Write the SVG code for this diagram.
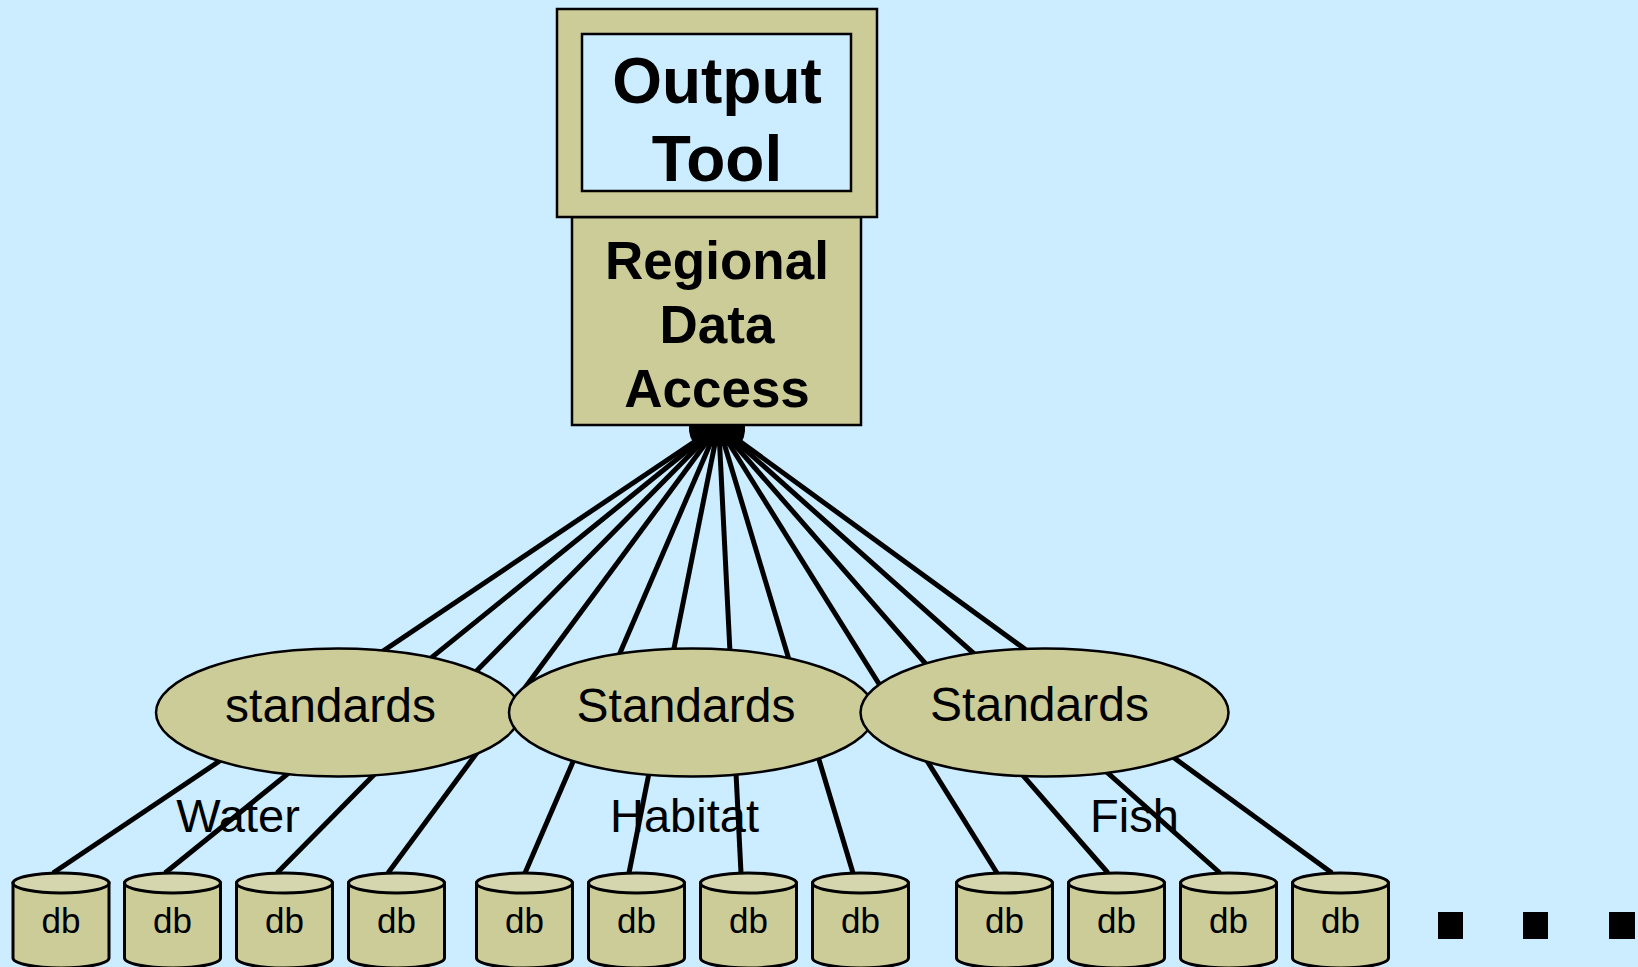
<svg xmlns="http://www.w3.org/2000/svg" width="1638" height="967" viewBox="0 0 1638 967">
  <defs>
    <style>
      .bg { fill: #CCECFF; }
      .box { fill: #CCCC99; stroke: #000; stroke-width: 2.5; }
      .screen { fill: #CCECFF; stroke: #000; stroke-width: 2.5; }
      .oval { fill: #CCCC99; stroke: #000; stroke-width: 2.5; }
      .cyl { fill: #CCCC99; stroke: #000; stroke-width: 3; }
      .cyltop { fill: #D5D6AE; stroke: #000; stroke-width: 3; }
      .link { stroke: #000; stroke-width: 5; fill: none; marker-end: url(#head); }
      .title { font-family: "Liberation Sans", Arial, sans-serif; font-weight: bold; text-anchor: middle; fill: #000; }
      .lbl { font-family: "Liberation Sans", Arial, sans-serif; text-anchor: middle; fill: #000; }
    </style>
    <marker id="head" viewBox="0 0 13 16" refX="0" refY="8" markerWidth="13" markerHeight="16" markerUnits="userSpaceOnUse" orient="auto">
      <path d="M0,0 L13,8 L0,16 z" fill="#000"/>
    </marker>
  </defs>

  <rect class="bg" x="0" y="0" width="1638" height="967"/>

  <!-- group labels (drawn beneath the links) -->
  <g id="group-labels">
    <text class="lbl" x="238" y="832" font-size="47">Water</text>
    <text class="lbl" x="684.5" y="832" font-size="47">Habitat</text>
    <text class="lbl" x="1134.5" y="832" font-size="47">Fish</text>
  </g>

  <!-- links from each database up to Regional Data Access -->
  <g id="connectors">
    <line class="link" x1="53" y1="873" x2="697.0" y2="440"/>
    <line class="link" x1="165" y1="873" x2="700.7" y2="440"/>
    <line class="link" x1="277" y1="873" x2="704.5" y2="440"/>
    <line class="link" x1="388" y1="873" x2="708.2" y2="440"/>
    <line class="link" x1="525" y1="873" x2="711.9" y2="440"/>
    <line class="link" x1="629" y1="873" x2="715.7" y2="440"/>
    <line class="link" x1="741" y1="873" x2="719.4" y2="440"/>
    <line class="link" x1="853" y1="873" x2="723.1" y2="440"/>
    <line class="link" x1="997" y1="873" x2="726.8" y2="440"/>
    <line class="link" x1="1108" y1="873" x2="730.6" y2="440"/>
    <line class="link" x1="1220" y1="873" x2="734.3" y2="440"/>
    <line class="link" x1="1332" y1="873" x2="738.0" y2="440"/>
    <!-- merged arrowheads where the links meet the box -->
    <path d="M689,426 L745,426 Q746,437 739,446 L696,446 Q688,437 689,426 z" fill="#000"/>
  </g>

  <!-- standards ovals -->
  <g id="standards-water">
    <ellipse class="oval" cx="338" cy="712.5" rx="182" ry="64"/>
    <text class="lbl" x="330.5" y="722" font-size="48">standards</text>
  </g>
  <g id="standards-habitat">
    <ellipse class="oval" cx="692" cy="712.5" rx="183" ry="64"/>
    <text class="lbl" x="686" y="722" font-size="48">Standards</text>
  </g>
  <g id="standards-fish">
    <ellipse class="oval" cx="1044.5" cy="712.5" rx="184" ry="64"/>
    <text class="lbl" x="1039.5" y="721" font-size="48">Standards</text>
  </g>

  <!-- Output Tool and Regional Data Access -->
  <g id="regional-data-access">
    <rect class="box" x="572" y="217" width="289" height="208"/>
    <text class="title" x="717" y="279" font-size="53">Regional</text>
    <text class="title" x="717" y="343" font-size="53">Data</text>
    <text class="title" x="717" y="407" font-size="53">Access</text>
  </g>
  <g id="output-tool">
    <rect class="box" x="557" y="9" width="320" height="208"/>
    <rect class="screen" x="582" y="34" width="269" height="157"/>
    <text class="title" x="717" y="103" font-size="64">Output</text>
    <text class="title" x="717" y="181" font-size="64">Tool</text>
  </g>

  <!-- databases -->
  <g id="db-1"><path class="cyl" d="M13,883 v75 a48,10 0 0 0 96,0 v-75 z"/><ellipse class="cyltop" cx="61" cy="883" rx="48" ry="10"/><text class="lbl" x="61" y="933" font-size="35">db</text></g>
  <g id="db-2"><path class="cyl" d="M124.5,883 v75 a48,10 0 0 0 96,0 v-75 z"/><ellipse class="cyltop" cx="172.5" cy="883" rx="48" ry="10"/><text class="lbl" x="172.5" y="933" font-size="35">db</text></g>
  <g id="db-3"><path class="cyl" d="M236.5,883 v75 a48,10 0 0 0 96,0 v-75 z"/><ellipse class="cyltop" cx="284.5" cy="883" rx="48" ry="10"/><text class="lbl" x="284.5" y="933" font-size="35">db</text></g>
  <g id="db-4"><path class="cyl" d="M348.5,883 v75 a48,10 0 0 0 96,0 v-75 z"/><ellipse class="cyltop" cx="396.5" cy="883" rx="48" ry="10"/><text class="lbl" x="396.5" y="933" font-size="35">db</text></g>
  <g id="db-5"><path class="cyl" d="M476.5,883 v75 a48,10 0 0 0 96,0 v-75 z"/><ellipse class="cyltop" cx="524.5" cy="883" rx="48" ry="10"/><text class="lbl" x="524.5" y="933" font-size="35">db</text></g>
  <g id="db-6"><path class="cyl" d="M588.5,883 v75 a48,10 0 0 0 96,0 v-75 z"/><ellipse class="cyltop" cx="636.5" cy="883" rx="48" ry="10"/><text class="lbl" x="636.5" y="933" font-size="35">db</text></g>
  <g id="db-7"><path class="cyl" d="M700.5,883 v75 a48,10 0 0 0 96,0 v-75 z"/><ellipse class="cyltop" cx="748.5" cy="883" rx="48" ry="10"/><text class="lbl" x="748.5" y="933" font-size="35">db</text></g>
  <g id="db-8"><path class="cyl" d="M812.5,883 v75 a48,10 0 0 0 96,0 v-75 z"/><ellipse class="cyltop" cx="860.5" cy="883" rx="48" ry="10"/><text class="lbl" x="860.5" y="933" font-size="35">db</text></g>
  <g id="db-9"><path class="cyl" d="M956.5,883 v75 a48,10 0 0 0 96,0 v-75 z"/><ellipse class="cyltop" cx="1004.5" cy="883" rx="48" ry="10"/><text class="lbl" x="1004.5" y="933" font-size="35">db</text></g>
  <g id="db-10"><path class="cyl" d="M1068.5,883 v75 a48,10 0 0 0 96,0 v-75 z"/><ellipse class="cyltop" cx="1116.5" cy="883" rx="48" ry="10"/><text class="lbl" x="1116.5" y="933" font-size="35">db</text></g>
  <g id="db-11"><path class="cyl" d="M1180.5,883 v75 a48,10 0 0 0 96,0 v-75 z"/><ellipse class="cyltop" cx="1228.5" cy="883" rx="48" ry="10"/><text class="lbl" x="1228.5" y="933" font-size="35">db</text></g>
  <g id="db-12"><path class="cyl" d="M1292.5,883 v75 a48,10 0 0 0 96,0 v-75 z"/><ellipse class="cyltop" cx="1340.5" cy="883" rx="48" ry="10"/><text class="lbl" x="1340.5" y="933" font-size="35">db</text></g>

  <!-- continuation marks -->
  <g id="ellipsis">
    <rect x="1438" y="912" width="25" height="27" fill="#000"/>
    <rect x="1523" y="912" width="25" height="27" fill="#000"/>
    <rect x="1609" y="912" width="26" height="27" fill="#000"/>
  </g>
</svg>
